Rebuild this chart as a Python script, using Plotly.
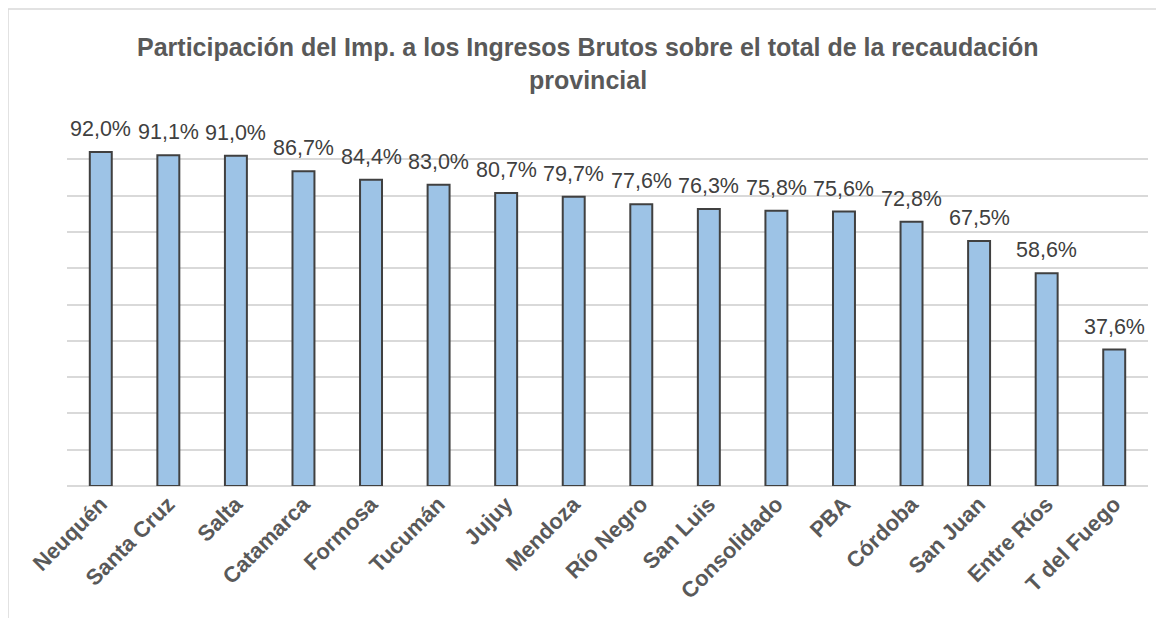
import plotly.graph_objects as go

categories = ["Neuquén", "Santa Cruz", "Salta", "Catamarca", "Formosa", "Tucumán", "Jujuy",
              "Mendoza", "Río Negro", "San Luis", "Consolidado", "PBA", "Córdoba",
              "San Juan", "Entre Ríos", "T del Fuego"]
values = [92.0, 91.1, 91.0, 86.7, 84.4, 83.0, 80.7, 79.7, 77.6, 76.3, 75.8, 75.6, 72.8, 67.5, 58.6, 37.6]
title_line1 = "Participación del Imp. a los Ingresos Brutos sobre el total de la recaudación"
title_line2 = "provincial"

FONT = "Liberation Sans, Arial, sans-serif"
OFF = 8  # page body margin
# target plot area in page pixels
PX0, PX1, PY0, PY1 = 67, 1148, 123, 486
W, H = 1164 - OFF, 618 - OFF
L, T = PX0 - OFF, PY0 - OFF
R, B = W - (PX1 - OFF), H - (PY1 - OFF)
pw, ph = PX1 - PX0, PY1 - PY0

def px_x(x):
    return (x - PX0) / pw

def px_y(y):
    return (PY1 - y) / ph

fig = go.Figure()
fig.add_trace(go.Bar(
    x=categories, y=values,
    marker=dict(color="#9DC3E6", line=dict(color="#404040", width=2)),
    hoverinfo="x+y",
))

annotations = []
for c, v in zip(categories, values):
    annotations.append(dict(
        x=c, y=v, xref="x", yref="y", text=f"{v:.1f}%".replace(".", ","),
        showarrow=False, yanchor="bottom", yshift=9,
        font=dict(family=FONT, size=21.5, color="#404040"),
    ))
annotations.append(dict(
    x=px_x(588), y=px_y(47), xref="paper", yref="paper", text=title_line1,
    showarrow=False, xanchor="center", yanchor="middle",
    font=dict(family=FONT, size=25, color="#595959", weight="bold"),
))
annotations.append(dict(
    x=px_x(588), y=px_y(80), xref="paper", yref="paper", text=title_line2,
    showarrow=False, xanchor="center", yanchor="middle",
    font=dict(family=FONT, size=25, color="#595959", weight="bold"),
))

fig.update_layout(
    width=W, height=H,
    margin=dict(l=L, r=R, t=T, b=B),
    paper_bgcolor="white", plot_bgcolor="white",
    bargap=0.675,
    showlegend=False,
    annotations=annotations,
    shapes=[dict(type="rect", xref="paper", yref="paper",
                 x0=px_x(8), x1=px_x(1180), y0=px_y(640), y1=px_y(9),
                 line=dict(color="#D9D9D9", width=1.5), fillcolor="rgba(0,0,0,0)", layer="below")],
)
fig.update_xaxes(
    tickangle=-45, showgrid=False, showline=False, ticks="",
    tickfont=dict(family=FONT, size=22, color="#595959", weight="bold"),
)
fig.update_yaxes(
    range=[0, 100], dtick=10, showticklabels=False, showgrid=True,
    gridcolor="#D9D9D9", gridwidth=1.5, zeroline=True, zerolinecolor="#D9D9D9", zerolinewidth=1.5,
    showline=False, ticks="",
)
fig.write_html("out.html")
